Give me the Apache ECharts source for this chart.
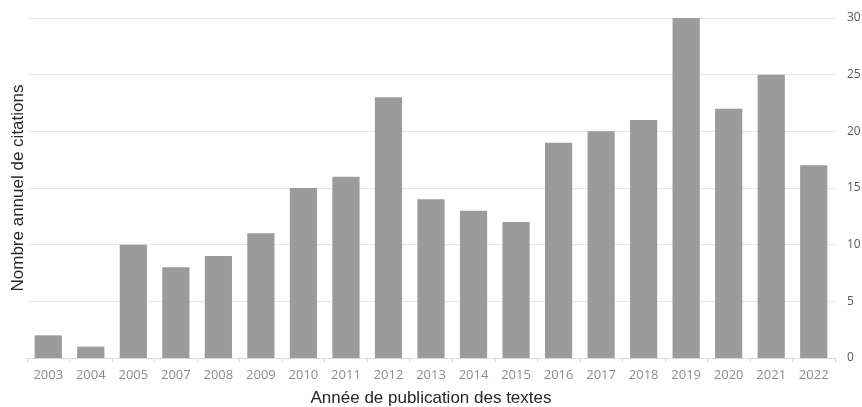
<!DOCTYPE html>
<html><head><meta charset="utf-8">
<script src="https://cdn.jsdelivr.net/npm/echarts@6/dist/echarts.min.js"></script>
<style>html,body{margin:0;padding:0;background:#fff}#c{width:862px;height:407px}</style>
</head><body><div id="c"></div>
<script>
const years = ['2003','2004','2005','2007','2008','2009','2010','2011','2012','2013','2014','2015','2016','2017','2018','2019','2020','2021','2022'];
const citations = [2,1,10,8,9,11,15,16,23,14,13,12,19,20,21,30,22,25,17];
const yMin = 0, yMax = 30, yStep = 5;
const chart = echarts.init(document.getElementById('c'), null, {renderer:'canvas'});
chart.setOption({
  animation:false,
  grid:{left:27,right:27,top:18,bottom:49,containLabel:false,outerBoundsMode:'none'},
  xAxis:{type:'category',data:years,
    name:'Année de publication des textes',nameLocation:'middle',nameGap:32,
    nameTextStyle:{fontFamily:'Liberation Sans',fontSize:17,color:'#262626'},
    axisLine:{lineStyle:{color:'#d9d9d9'}},
    axisTick:{show:true,length:5,lineStyle:{color:'#d9d9d9'}},
    axisLabel:{fontFamily:'Open Sans',fontSize:13,color:'#8c8c8c',margin:11}},
  yAxis:[{type:'value',position:'right',min:yMin,max:yMax,interval:yStep,
    axisLine:{show:false},axisTick:{show:false},
    splitLine:{lineStyle:{color:'#e6e6e6'}},
    axisLabel:{fontFamily:'Open Sans',fontSize:12,color:'#595959',margin:12,align:'left'}},
   {type:'value',position:'left',min:yMin,max:yMax,interval:yStep,
    axisLine:{show:false},axisTick:{show:false},splitLine:{show:false},axisLabel:{show:false},
    name:'Nombre annuel de citations',nameLocation:'middle',nameGap:0,
    nameTextStyle:{fontFamily:'Liberation Sans',fontSize:17,color:'#262626'}}],
  series:[{type:'bar',data:citations,barCategoryGap:'36%',itemStyle:{color:'#9b9b9b'}}]
});
</script></body></html>
